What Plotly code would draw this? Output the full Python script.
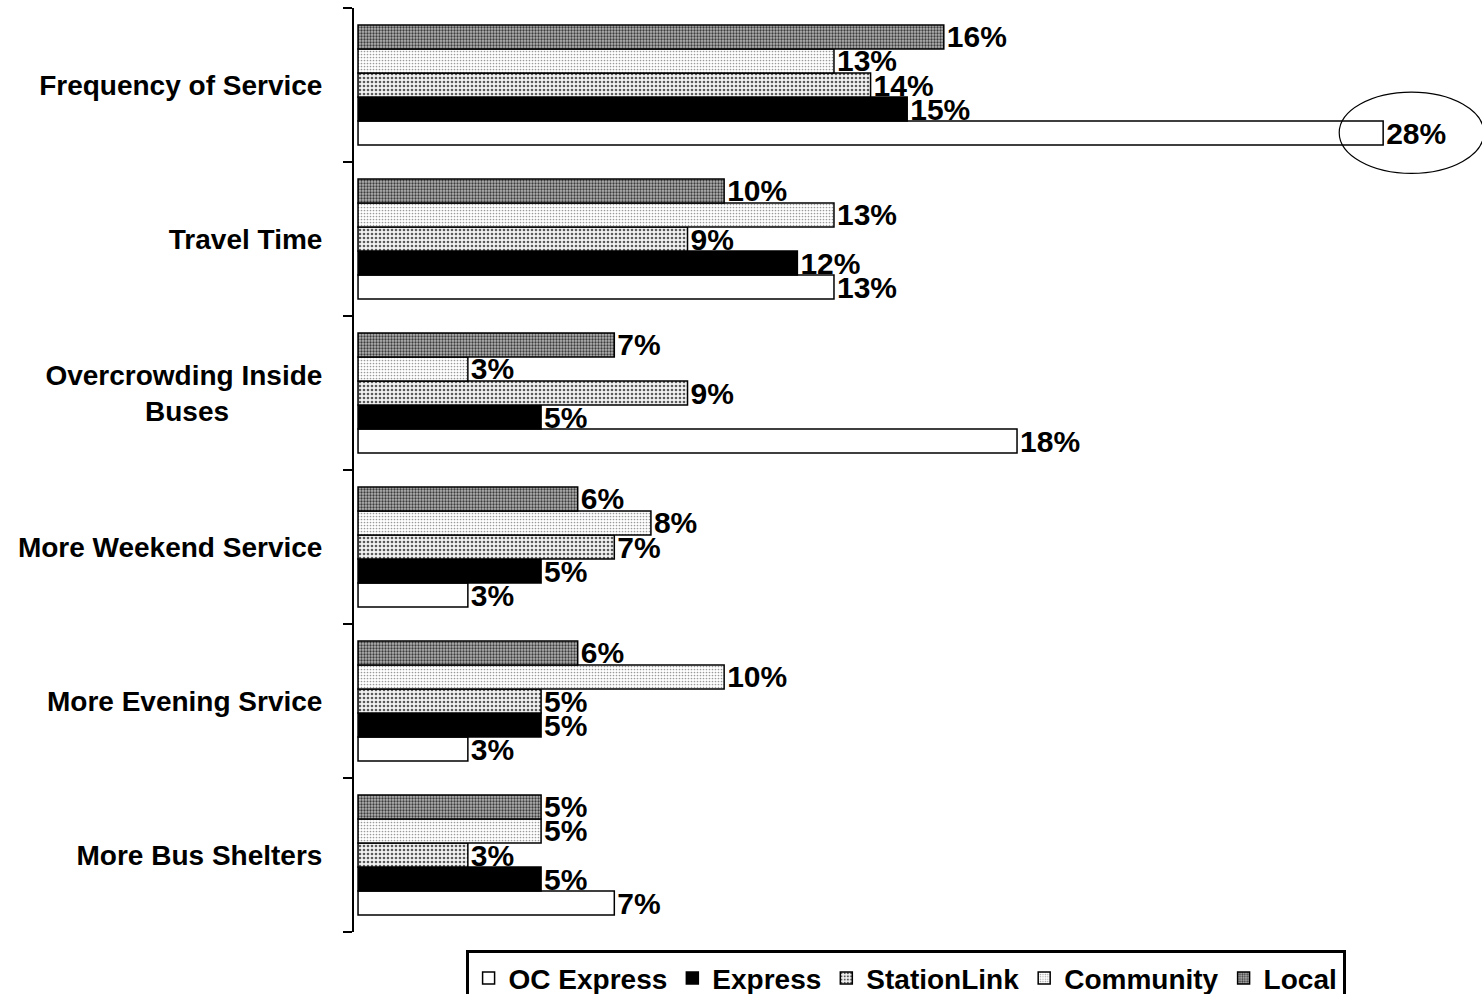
import plotly.graph_objects as go

# Reasons for choosing a service, share of riders by service type (%)
categories = [
    "Frequency of Service",
    "Travel Time",
    "Overcrowding Inside<br>Buses" + "&nbsp;" * 12,
    "More Weekend Service",
    "More Evening Srvice",
    "More Bus Shelters",
]

oc_express = [28, 13, 18, 3, 3, 7]
express = [15, 12, 5, 5, 5, 5]
stationlink = [14, 9, 9, 7, 5, 3]
community = [13, 13, 3, 8, 10, 5]
local = [16, 10, 7, 6, 6, 5]

series_names = ["OC Express", "Express", "StationLink", "Community", "Local"]
series_values = [oc_express, express, stationlink, community, local]

# fill styles: plain white, solid black, and three speckled greys
styles = [
    dict(color="white", pattern=None),
    dict(color="black", pattern=None),
    dict(color="white", pattern=dict(shape=".", fgcolor="#5a5a5a", bgcolor="#f2f2f2",
                                     size=4, solidity=0.35, fillmode="replace")),
    dict(color="white", pattern=dict(shape=".", fgcolor="#9a9a9a", bgcolor="#ffffff",
                                     size=3, solidity=0.25, fillmode="replace")),
    dict(color="white", pattern=dict(shape=".", fgcolor="#3c3c3c", bgcolor="#b4b4b4",
                                     size=3, solidity=0.45, fillmode="replace")),
]

FONT = "Liberation Sans, Arial, sans-serif"

fig = go.Figure()
for name, vals, st in zip(series_names, series_values, styles):
    marker = dict(color=st["color"], line=dict(color="black", width=1.5))
    if st["pattern"] is not None:
        marker["pattern"] = st["pattern"]
    fig.add_trace(go.Bar(
        name=name,
        y=categories,
        x=vals,
        orientation="h",
        marker=marker,
        text=[f"{v}%" for v in vals],
        textposition="outside",
        constraintext="none",
        cliponaxis=False,
        textfont=dict(family=FONT, size=30, color="black", weight="bold"),
    ))

# categories listed bottom-to-top so the first category sits at the top
fig.update_yaxes(
    type="category",
    categoryorder="array",
    categoryarray=categories[::-1],
    showline=True,
    linecolor="black",
    linewidth=2,
    ticks="outside",
    tickson="boundaries",
    ticklen=9,
    tickwidth=2,
    tickcolor="black",
    ticklabelstandoff=24,
    tickfont=dict(family=FONT, size=28, color="black", weight="bold"),
    showgrid=False,
    zeroline=False,
)
fig.update_xaxes(visible=False, range=[-0.11, 30.7], showgrid=False, zeroline=False)

# highlight ring around the largest value
fig.add_shape(type="circle", xref="x", yref="paper",
              x0=26.8, x1=30.75, y0=0.821, y1=0.909,
              line=dict(color="black", width=1.2))

fig.update_layout(
    width=1482,
    height=994,
    barmode="group",
    bargap=0.22,
    bargroupgap=0,
    plot_bgcolor="white",
    paper_bgcolor="white",
    margin=dict(l=354, r=0, t=8, b=62, autoexpand=False),
    legend=dict(
        orientation="h",
        x=0.489,
        xanchor="center",
        yref="container",
        y=0.044,
        yanchor="top",
        traceorder="normal",
        bordercolor="black",
        borderwidth=3,
        font=dict(family=FONT, size=28, color="black", weight="bold"),
    ),
)

fig.write_html("out.html")
